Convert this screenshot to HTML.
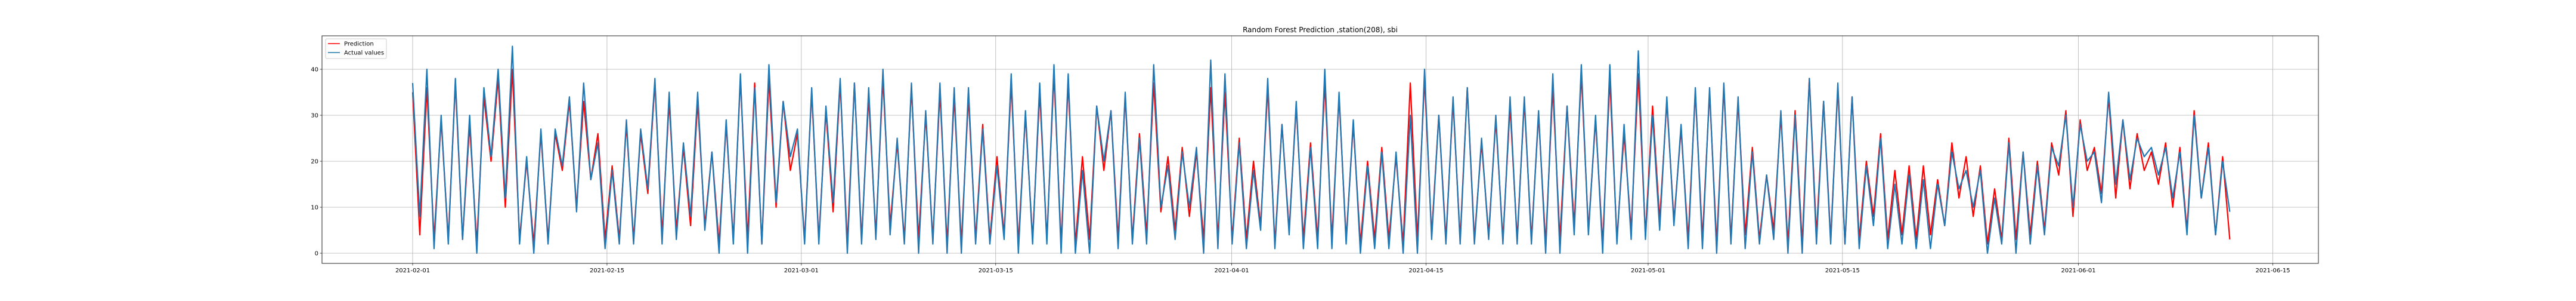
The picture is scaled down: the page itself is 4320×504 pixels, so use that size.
<!DOCTYPE html>
<html><head><meta charset="utf-8">
<style>
html,body{margin:0;padding:0;background:#fff;}
svg{display:block;font-family:"DejaVu Sans","Liberation Sans",sans-serif;}
</style></head>
<body>
<svg id="chart" width="4320" height="504" viewBox="0 0 4320 504" xmlns="http://www.w3.org/2000/svg">
<rect x="0" y="0" width="4320" height="504" fill="#fff"/>
<text x="2214" y="54" font-size="12" text-anchor="middle" fill="#000">Random Forest Prediction ,station(208), sbi</text>
<g id="grid"></g>
<g id="series"></g>
<rect x="540" y="60" width="3348" height="381" fill="none" stroke="#262626" stroke-width="1"/>
<g id="axes"></g>
<g>
<rect x="546" y="65" width="102" height="33" rx="2" fill="#fff" fill-opacity="0.8" stroke="#ccc" stroke-width="1"/>
<line x1="550" y1="73" x2="570" y2="73" stroke="#ff0000" stroke-width="1.5"/>
<text x="577" y="76.5" font-size="10" fill="#000">Prediction</text>
<line x1="550" y1="88" x2="570" y2="88" stroke="#1f77b4" stroke-width="1.5"/>
<text x="577" y="91.5" font-size="10" fill="#000">Actual values</text>
</g>
</svg>
<script>
const yTicks = [0, 10, 20, 30, 40];
const xTickDays = [0, 14, 28, 42, 59, 73, 89, 103, 120, 134];
const xTickLabels = ["2021-02-01","2021-02-15","2021-03-01","2021-03-15","2021-04-01","2021-04-15","2021-05-01","2021-05-15","2021-06-01","2021-06-15"];
const startDay = 0;
const endDay = 130.9;
const actualValues = [
37,8,40,1,30,2,38,3,30,0,36,21,40,12,45,2,21,0,27,2,27,19,34,9,37,16,24,1,18,2,29,2,27,14,38,2,35,3,24,8,35,5,22,0,29,2,39,0,36,2,41,11,33,21,27,2,36,2,32,11,38,0,37,2,36,3,
40,4,25,2,37,0,31,2,37,0,36,0,36,2,27,2,19,3,39,0,31,2,37,2,41,0,39,0,18,0,32,20,31,1,35,2,25,2,41,10,19,3,22,10,23,0,42,1,39,2,24,1,18,5,38,1,28,4,33,1,23,1,40,1,35,
2,29,0,19,1,22,1,22,0,30,0,40,3,30,2,34,2,36,2,25,3,30,2,34,2,34,2,31,0,39,0,32,4,41,4,30,0,41,2,28,3,44,3,30,5,34,6,28,1,36,1,36,0,37,2,34,1,22,2,17,3,31,0,30,
0,38,2,33,2,37,2,34,1,19,6,25,1,15,2,17,1,16,1,15,6,22,14,18,10,18,0,12,2,24,0,22,2,19,4,23,19,30,10,28,20,22,11,35,15,29,16,25,21,23,17,23,12,22,4,30,12,23,4,20,9
];
const predictionValues = [
35,4,36,3,29,3,37,3,28,2,34,20,38,10,40,3,20,2,26,3,26,18,33,10,33,16,26,3,19,3,28,3,26,13,37,4,33,5,23,6,33,6,22,2,28,3,38,3,37,2,38,10,33,18,26,3,35,3,31,9,37,2,37,3,34,4,
38,6,24,3,36,3,30,3,35,2,34,2,34,3,28,3,21,4,37,2,30,3,35,3,39,2,37,2,21,3,32,18,31,3,34,3,26,4,37,9,21,5,23,8,22,3,36,3,35,3,25,3,20,6,36,2,28,5,32,3,24,3,37,3,34,
3,28,2,20,3,23,3,21,2,37,3,38,4,30,3,33,3,36,3,24,4,29,3,32,3,33,3,30,2,36,3,32,6,39,5,29,2,38,3,26,5,39,4,32,7,33,7,27,3,35,3,35,2,36,3,33,4,23,3,17,5,30,2,31,
2,38,4,33,3,36,2,34,3,20,8,26,3,18,4,19,3,19,4,16,6,24,12,21,8,19,2,14,3,25,3,22,4,20,5,24,17,31,8,29,18,23,13,34,12,29,14,26,18,22,15,24,10,23,5,31,12,24,4,21,3
];

const NS = "http://www.w3.org/2000/svg";
const PL = 540, PR = 3888, PT = 60, PB = 441;
function xScale(day){ return 692 + 23.28 * day; }
function yScale(v){ return 424 - 7.7 * v; }
function dayAt(i, n){ return startDay + (endDay - startDay) * i / (n - 1); }

const grid = document.getElementById("grid");
const axes = document.getElementById("axes");
const series = document.getElementById("series");

yTicks.forEach(function(t){
  const y = yScale(t);
  const g = document.createElementNS(NS, "line");
  g.setAttribute("x1", PL); g.setAttribute("x2", PR);
  g.setAttribute("y1", y); g.setAttribute("y2", y);
  g.setAttribute("stroke", "#b0b0b0"); g.setAttribute("stroke-width", "0.8");
  
  
  grid.appendChild(g);
  const tk = document.createElementNS(NS, "line");
  tk.setAttribute("x1", PL - 3.5); tk.setAttribute("x2", PL);
  tk.setAttribute("y1", y); tk.setAttribute("y2", y);
  tk.setAttribute("stroke", "#262626"); tk.setAttribute("stroke-width", "0.8");
  
  
  axes.appendChild(tk);
  const lb = document.createElementNS(NS, "text");
  lb.setAttribute("x", PL - 6); lb.setAttribute("y", y + 3.5);
  lb.setAttribute("text-anchor", "end"); lb.setAttribute("font-size", "10");
  lb.textContent = t;
  
  
  axes.appendChild(lb);
});

xTickDays.forEach(function(d, i){
  const x = xScale(d);
  const g = document.createElementNS(NS, "line");
  g.setAttribute("x1", x); g.setAttribute("x2", x);
  g.setAttribute("y1", PT); g.setAttribute("y2", PB);
  g.setAttribute("stroke", "#b0b0b0"); g.setAttribute("stroke-width", "0.8");
  
  
  grid.appendChild(g);
  const tk = document.createElementNS(NS, "line");
  tk.setAttribute("x1", x); tk.setAttribute("x2", x);
  tk.setAttribute("y1", PB); tk.setAttribute("y2", PB + 3.5);
  tk.setAttribute("stroke", "#262626"); tk.setAttribute("stroke-width", "0.8");
  
  
  axes.appendChild(tk);
  const lb = document.createElementNS(NS, "text");
  lb.setAttribute("x", x); lb.setAttribute("y", PB + 15);
  lb.setAttribute("text-anchor", "middle"); lb.setAttribute("font-size", "10");
  lb.textContent = xTickLabels[i];
  
  
  axes.appendChild(lb);
});

function buildPath(vals){
  let d = "";
  vals.forEach(function(v, i){
    d += (i ? "L" : "M") + xScale(dayAt(i, vals.length)).toFixed(1) + " " + yScale(v).toFixed(1);
  });
  return d;
}
const pred = document.createElementNS(NS, "path");
pred.setAttribute("d", buildPath(predictionValues));
pred.setAttribute("fill", "none"); pred.setAttribute("stroke", "#ff0000");
pred.setAttribute("stroke-width", "2.2"); pred.setAttribute("stroke-linejoin", "round");


series.appendChild(pred);

const act = document.createElementNS(NS, "path");
act.setAttribute("d", buildPath(actualValues));
act.setAttribute("fill", "none"); act.setAttribute("stroke", "#1f77b4");
act.setAttribute("stroke-width", "2.2"); act.setAttribute("stroke-linejoin", "round");


series.appendChild(act);
</script>
</body></html>
